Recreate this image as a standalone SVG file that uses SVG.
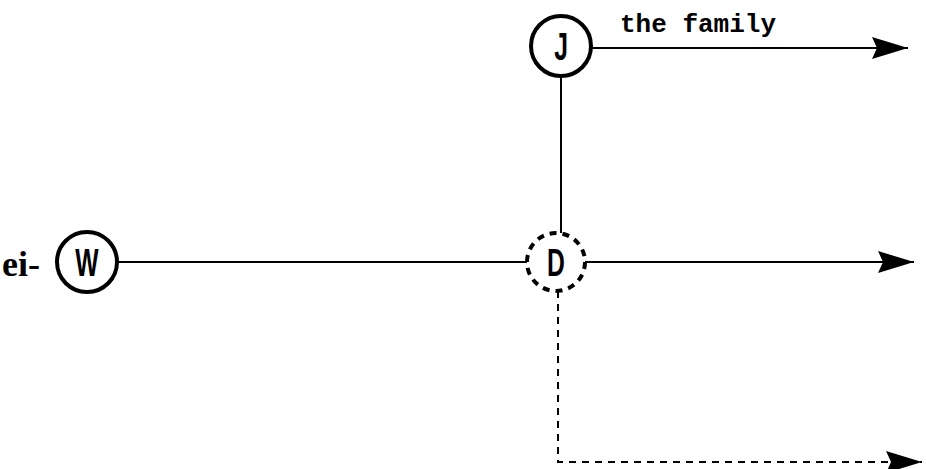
<svg xmlns="http://www.w3.org/2000/svg" width="926" height="469" viewBox="0 0 926 469">
<style>
.node{fill:#fff;stroke:#000;stroke-width:4}
.dash{stroke-dasharray:7,6}
.lbl{font-family:"Liberation Sans Narrow","Liberation Sans",Arial,sans-serif;font-weight:bold;font-size:38px;text-anchor:middle}
.ln{stroke:#000;stroke-width:2;fill:none}
</style>
<defs>
<marker id="ah" markerWidth="36" markerHeight="22" refX="36" refY="11" orient="auto" markerUnits="userSpaceOnUse">
<path d="M0,0 L36,11 L0,22 L5,11 Z" fill="#000"/>
</marker>
</defs>
<g id="connectors">
<line class="ln" x1="117" y1="262" x2="527" y2="262"/>
<line class="ln" x1="561" y1="76" x2="561" y2="233"/>
<line class="ln" x1="591" y1="48" x2="908" y2="48" marker-end="url(#ah)"/>
<line class="ln" x1="585" y1="262" x2="914" y2="262" marker-end="url(#ah)"/>
<polyline class="ln dash" points="558,291 558,462 922,462" stroke-width="2.5" marker-end="url(#ah)"/>
</g>
<g id="W">
<circle class="node" cx="87" cy="262" r="30"/>
<text class="lbl" x="87" y="276" transform="translate(87,0) scale(0.65,1) translate(-87,0)">W</text>
</g>
<g id="J">
<circle class="node" cx="561" cy="46" r="30"/>
<text class="lbl" x="561" y="60" transform="translate(561,0) scale(0.65,1) translate(-561,0)">J</text>
</g>
<g id="D">
<circle class="node dash" cx="556" cy="262" r="29" stroke-dasharray="6,5" stroke-width="3"/>
<text class="lbl" x="556" y="276" transform="translate(556,0) scale(0.65,1) translate(-556,0)">D</text>
</g>
<text x="620" y="32" font-family="Liberation Mono,Courier New,monospace" font-weight="bold" font-size="26">the family</text>
<text x="2" y="276" font-family="Liberation Serif,Times New Roman,serif" font-weight="bold" font-size="36">ei-</text>
</svg>
